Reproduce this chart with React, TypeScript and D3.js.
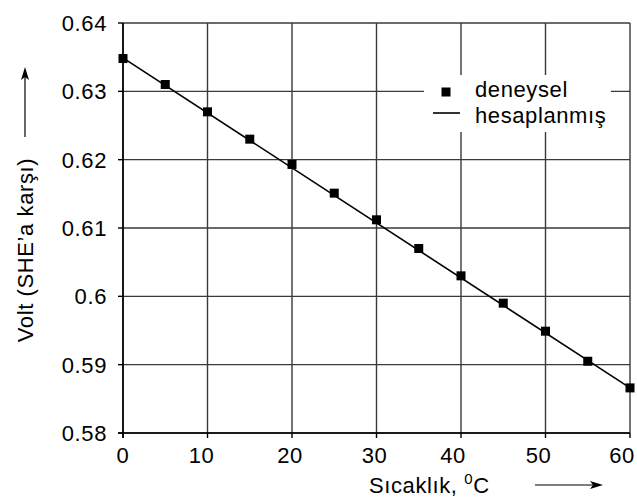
import React from "react";
import * as d3 from "d3";

const temps = [0, 5, 10, 15, 20, 25, 30, 35, 40, 45, 50, 55, 60];
const measured = [0.6348, 0.631, 0.627, 0.623, 0.6193, 0.6151, 0.6112, 0.607, 0.603, 0.599, 0.5949, 0.5905, 0.5866];
const calcTemps = [0, 60];
const calculated = [0.6349, 0.5866];
const xTicks = [0, 10, 20, 30, 40, 50, 60];
const yTicks = [0.58, 0.59, 0.6, 0.61, 0.62, 0.63, 0.64];
const yTickLabels = ["0.58", "0.59", "0.6", "0.61", "0.62", "0.63", "0.64"];
const legendLabels = ["deneysel", "hesaplanmış"];

const W = 637, H = 502;
const L = 123, R = 630, T = 23, B = 433;
const FONT = "'Liberation Sans', Arial, sans-serif";
const FS = 22;
const LS = 0.6;
const xLabelShift: Record<number, number> = { 0: 0, 10: -6, 20: -2, 30: -2, 40: -8, 50: -7, 60: -8 };

export default function App() {
  const x = d3.scaleLinear().domain([0, 60]).range([L, R]);
  const y = d3.scaleLinear().domain([0.58, 0.64]).range([B, T]);
  const line = d3.line<number>().x((_, i) => x(calcTemps[i])).y((d) => y(d));
  const gridColor = "#3a3a3a";
  return (
    <svg width={W} height={H} style={{ position: "absolute", left: 0, top: 0, background: "#fff" }} fontFamily={FONT} letterSpacing={LS}>
      <rect x={0} y={0} width={W} height={H} fill="#fff" />
      {xTicks.map((t) => (
        <line key={"gx" + t} x1={x(t)} x2={x(t)} y1={T} y2={B} stroke={gridColor} strokeWidth={1.4} />
      ))}
      {yTicks.map((t) => (
        <line key={"gy" + t} x1={L} x2={R} y1={y(t)} y2={y(t)} stroke={gridColor} strokeWidth={1.4} />
      ))}
      {xTicks.map((t) => (
        <line key={"tx" + t} x1={x(t)} x2={x(t)} y1={B} y2={B + 5} stroke="#000" strokeWidth={1.4} />
      ))}
      {yTicks.map((t) => (
        <line key={"ty" + t} x1={L - 5} x2={L} y1={y(t)} y2={y(t)} stroke="#000" strokeWidth={1.4} />
      ))}
      <line x1={L} x2={L} y1={T} y2={B + 5} stroke="#000" strokeWidth={1.6} />
      <line x1={L - 5} x2={R} y1={B} y2={B} stroke="#000" strokeWidth={1.6} />
      {xTicks.map((t) => (
        <text key={"lx" + t} x={x(t) + (xLabelShift[t] || 0)} y={463} textAnchor="middle" fontSize={FS} fill="#000">{t}</text>
      ))}
      {yTicks.map((t, i) => (
        <text key={"ly" + t} x={107} y={y(t) + 8} textAnchor="end" fontSize={FS} fill="#000">{yTickLabels[i]}</text>
      ))}
      <rect x={424} y={75} width={187} height={57} fill="#fff" />
      <rect x={441.5} y={87.5} width={9} height={9} fill="#000" />
      <line x1={433} x2={460} y1={113} y2={113} stroke="#000" strokeWidth={1.6} />
      <text x={475} y={97} fontSize={FS} fill="#000">{legendLabels[0]}</text>
      <text x={475} y={123} fontSize={FS} fill="#000">{legendLabels[1]}</text>
      <path d={line(calculated) || ""} fill="none" stroke="#000" strokeWidth={1.6} />
      {measured.map((v, i) => (
        <rect key={"p" + i} x={x(temps[i]) - 4.5} y={y(v) - 4.5} width={9} height={9} fill="#000" />
      ))}
      <text transform="translate(33,250) rotate(-90)" textAnchor="middle" fontSize={FS} fill="#000">Volt (SHE’a karşı)</text>
      <line x1={25} x2={25} y1={137} y2={76} stroke="#000" strokeWidth={1.2} />
      <path d="M25,67 L21,80 L25,77 L29,80 Z" fill="#000" />
      <text x={369} y={493} fontSize={FS} fill="#000">
        Sıcaklık, <tspan fontSize={15} dy={-9}>0</tspan><tspan dy={9}>C</tspan>
      </text>
      <line x1={535} x2={594} y1={485} y2={485} stroke="#000" strokeWidth={1.2} />
      <path d="M603,485 L590,481 L593,485 L590,489 Z" fill="#000" />
    </svg>
  );
}
